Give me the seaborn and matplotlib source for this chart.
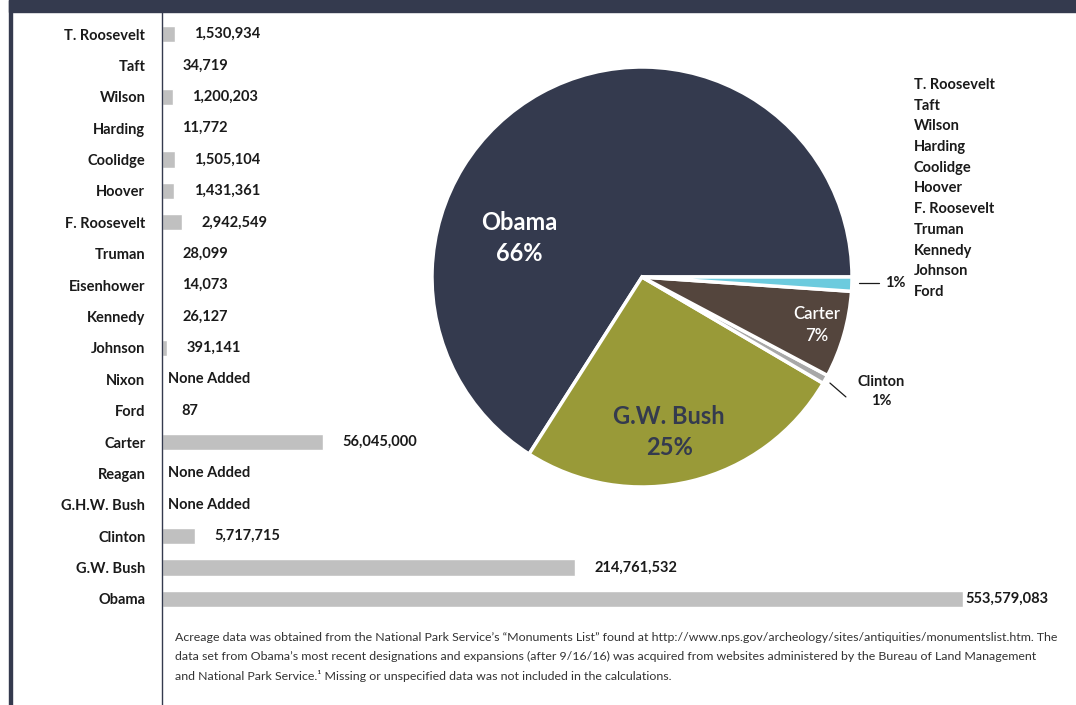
import numpy as np
import matplotlib
matplotlib.use("Agg")
import matplotlib.pyplot as plt
from matplotlib.patches import Rectangle
from matplotlib.lines import Line2D
import seaborn as sns

# ---------------- data ----------------
presidents = ["T. Roosevelt", "Taft", "Wilson", "Harding", "Coolidge", "Hoover",
              "F. Roosevelt", "Truman", "Eisenhower", "Kennedy", "Johnson", "Nixon",
              "Ford", "Carter", "Reagan", "G.H.W. Bush", "Clinton", "G.W. Bush", "Obama"]
acres = [1530934, 34719, 1200203, 11772, 1505104, 1431361,
         2942549, 28099, 14073, 26127, 391141, 0,
         87, 56045000, 0, 0, 5717715, 214761532, 553579083]

pie_groups = ["Obama", "G.W. Bush", "Clinton", "Carter", "Others"]
pie_pct_labels = ["66%", "25%", "1%", "7%", "1%"]
others_list = ["T. Roosevelt", "Taft", "Wilson", "Harding", "Coolidge", "Hoover",
               "F. Roosevelt", "Truman", "Kennedy", "Johnson", "Ford"]

footnote = ("Acreage data was obtained from the National Park Service\u2019s \u201cMonuments List\u201d found at "
            "http://www.nps.gov/archeology/sites/antiquities/monumentslist.htm. The\n"
            "data set from Obama\u2019s most recent designations and expansions (after 9/16/16) was acquired "
            "from websites administered by the Bureau of Land Management\n"
            "and National Park Service.\u00b9 Missing or unspecified data was not included in the calculations.")

# ---------------- style ----------------
NAVY = "#343a4e"
OLIVE = "#999a38"
BROWN = "#54453d"
GREY = "#a8a8a8"
CYAN = "#6ccbde"
BAR = "#c0c0c0"
TXT = "#1a1a1a"

sns.set_theme(style="white")
plt.rcParams["font.family"] = ["Lato", "DejaVu Sans"]

W, H = 1076, 705
fig = plt.figure(figsize=(W / 100, H / 100), dpi=100)

def fx(px):
    return px / W

def fy(py):
    return 1 - py / H

# frame decorations
fig.patches.append(Rectangle((fx(9), fy(12)), 1, 12 / H, transform=fig.transFigure,
                             color=NAVY, zorder=0))
fig.patches.append(Rectangle((fx(9), 0), 3 / W, 1, transform=fig.transFigure,
                             color=NAVY, zorder=0))
fig.lines.append(Line2D([fx(161.5), fx(161.5)], [0, fy(12)], transform=fig.transFigure,
                        color=NAVY, lw=1.0))

# ---------------- bar chart ----------------
n = len(presidents)
row_h = (599 - 34) / (n - 1)
top = 34 - row_h / 2
bot = 599 + row_h / 2
ax = fig.add_axes([fx(162), fy(bot), fx(1076 - 162), (bot - top) / H])

sns.barplot(x=acres, y=presidents, orient="h", color=BAR, saturation=1,
            width=0.52, ax=ax)

p = 0.7
ax.set_xscale("function", functions=(lambda v: np.sign(v) * np.abs(v) ** p,
                                     lambda v: np.sign(v) * np.abs(v) ** (1 / p)))
ax.set_xlim(0, 668.3e6)
ax.set_ylim(n - 0.5, -0.5)
ax.set_yticks(range(n))
ax.set_yticklabels(presidents, fontsize=10.5, fontweight="bold", color=TXT)
ax.tick_params(axis="y", length=0, pad=12)
ax.set_xticks([])
ax.set_xlabel("")
ax.set_ylabel("")
for s in ax.spines.values():
    s.set_visible(False)

vmax = max(acres)
for i, v in enumerate(acres):
    if v == 0:
        txt, off = "None Added", 4.5
    else:
        txt = f"{v:,}"
        off = 1.5 if v == vmax else 14
    ax.annotate(txt, xy=(v, i), xytext=(off, 0), textcoords="offset points",
                ha="left", va="center", fontsize=10.5, fontweight="bold", color=TXT)

# ---------------- pie chart ----------------
lookup = dict(zip(presidents, acres))
main = [lookup[g] for g in pie_groups[:-1]]
pie_vals = main + [sum(acres) - sum(main)]

cx, cy, R = 642, 277, 210
ax2 = fig.add_axes([fx(cx - R), fy(cy + R), 2 * R / W, 2 * R / H])
ax2.pie(pie_vals, colors=[NAVY, OLIVE, GREY, BROWN, CYAN], startangle=0,
        counterclock=True, radius=1,
        wedgeprops=dict(edgecolor="white", linewidth=2.5))
ax2.set_xlim(-1, 1)
ax2.set_ylim(-1, 1)
ax2.set_aspect("equal")
ax2.axis("off")

ax2.text(-0.586, 0.186, f"{pie_groups[0]}\n{pie_pct_labels[0]}", ha="center", va="center",
         fontsize=17, fontweight="bold", color="white", linespacing=1.45)
ax2.text(0.129, -0.738, f"{pie_groups[1]}\n{pie_pct_labels[1]}", ha="center", va="center",
         fontsize=17, fontweight="bold", color=NAVY, linespacing=1.45)
ax2.text(0.833, -0.229, f"{pie_groups[3]}\n{pie_pct_labels[3]}", ha="center", va="center",
         fontsize=12, fontweight="semibold", color="white", linespacing=1.5)
ax2.text(1.14, -0.545, f"{pie_groups[2]}\n{pie_pct_labels[2]}", ha="center", va="center",
         fontsize=10.5, fontweight="bold", color=TXT, linespacing=1.5)
ax2.plot([0.895, 0.971], [-0.505, -0.571], color=TXT, lw=0.9, clip_on=False)
ax2.plot([1.033, 1.129], [-0.029, -0.029], color=TXT, lw=0.9, clip_on=False)
ax2.text(1.157, -0.029, pie_pct_labels[4], ha="left", va="center",
         fontsize=10.5, fontweight="bold", color=TXT)

# others list
step = (292 - 85) / (len(others_list) - 1)
for k, name in enumerate(others_list):
    fig.text(fx(914), fy(85 + k * step), name, ha="left", va="center",
             fontsize=10.5, fontweight="bold", color=TXT)

# footnote
fig.text(fx(175), fy(632), footnote, ha="left", va="top", fontsize=8.9,
         color="#333333", linespacing=1.85)

fig.savefig("out.png", dpi=100, facecolor="white")
